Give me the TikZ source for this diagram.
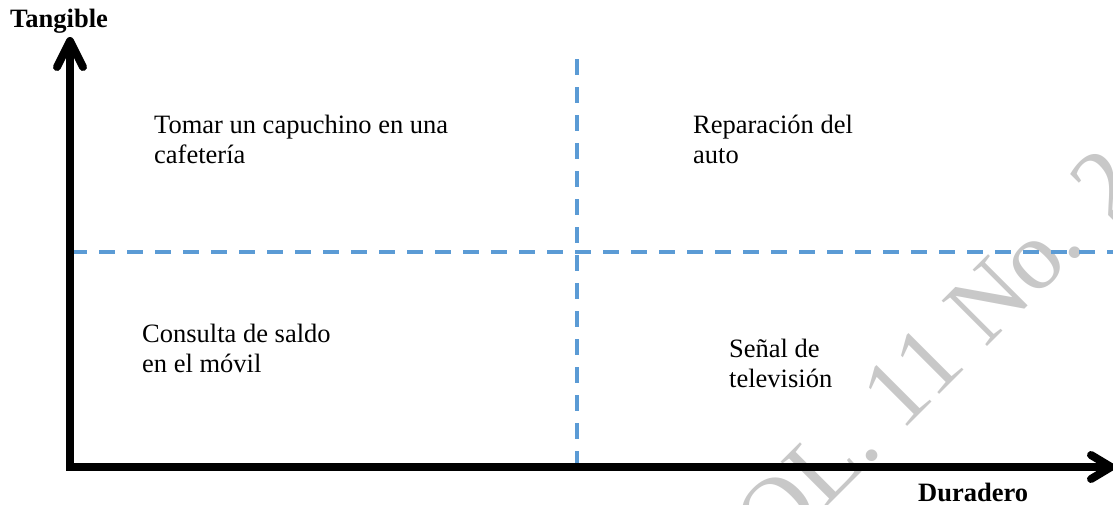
\documentclass[tikz,border=0pt]{standalone}
\usepackage{fontspec}
\setmainfont{Liberation Serif}
\usetikzlibrary{calc}
\definecolor{dashblue}{HTML}{5B9BD5}
\definecolor{wmgray}{HTML}{C8C8C8}
\begin{document}
\begin{tikzpicture}[x=1pt,y=-1pt,
  axisline/.style={line width=8pt,black},
  arrowhead/.style={line width=8pt,black,line cap=round,line join=round},
  divider/.style={line width=4pt,dashblue,dash pattern=on 16pt off 12pt},
  label/.style={anchor=base west,inner sep=0pt,align=left,font=\fontsize{26.5}{30}\selectfont},
  axislabel/.style={anchor=base west,inner sep=0pt,font=\fontsize{26.5}{30}\selectfont\bfseries},
  watermark/.style={anchor=base west,inner sep=0pt,rotate=45,text=wmgray,font=\fontsize{98}{98}\selectfont}]
\useasboundingbox (0,0) rectangle (1113,504);
\clip (0,0) rectangle (1113,504);
% watermark
\node[watermark] (wm) at (724,610) {VOL. 11 No. 2};
% coordinates
\coordinate (origin) at (70,467);
\coordinate (ytip) at (70,41);
\coordinate (xtip) at (1111,467);
\coordinate (vtop) at (577,59);
\coordinate (vbot) at (577,463);
\coordinate (hleft) at (71,252);
\coordinate (hright) at (1113,252);
% dashed dividers
\draw[divider] (vtop) -- (vbot);
\draw[divider] (hleft) -- (hright);
% axes
\draw[axisline,line join=miter] (ytip) -- (origin) -- (xtip);
\draw[arrowhead] ($(ytip)+(-13,26)$) -- (ytip) -- ($(ytip)+(13,26)$);
\draw[arrowhead] ($(xtip)+(-20,-12)$) -- (xtip) -- ($(xtip)+(-20,12)$);
% labels
\node[axislabel] (tang) at (10,27) {Tangible};
\node[axislabel] (dur) at (918,501) {Duradero};
\node[label] (q1) at (154,163) {Tomar un capuchino en una\\cafetería};
\node[label] (q2) at (693,163) {Reparación del\\auto};
\node[label] (q3) at (142,372) {Consulta de saldo\\en el móvil};
\node[label] (q4) at (729,387) {Señal de\\televisión};
\end{tikzpicture}
\end{document}
